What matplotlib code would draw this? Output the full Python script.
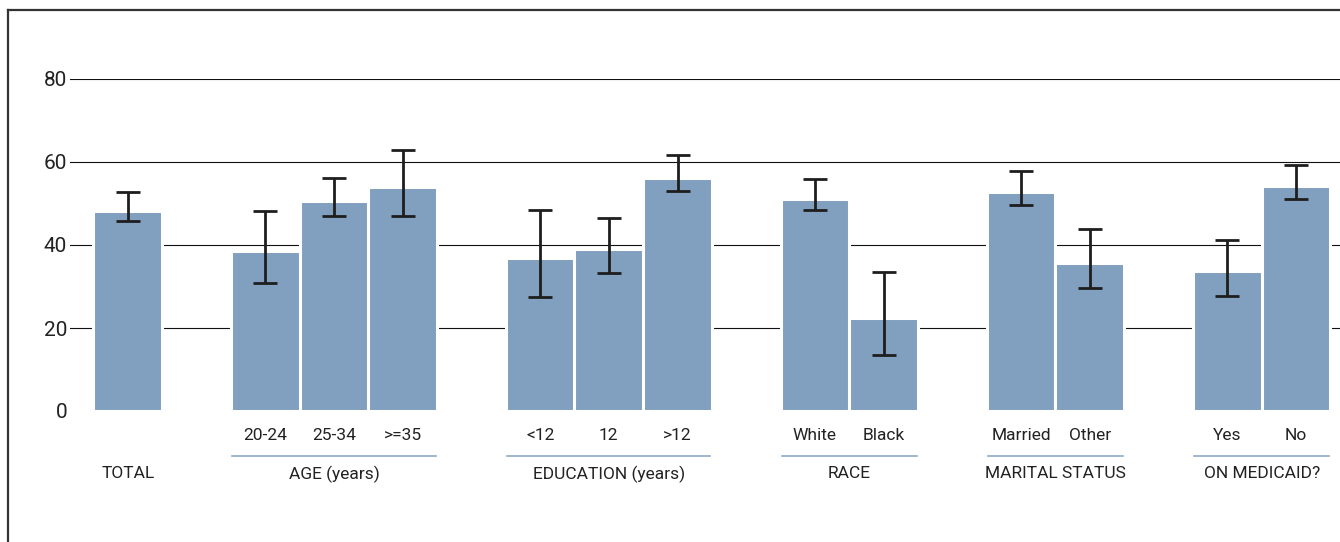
import matplotlib
matplotlib.use("Agg")
import matplotlib.pyplot as plt
from matplotlib import font_manager
from matplotlib.lines import Line2D
from matplotlib.transforms import blended_transform_factory

# data
CATEGORIES = ["", "20-24", "25-34", ">=35", "<12", "12", ">12",
              "White", "Black", "Married", "Other", "Yes", "No"]
POSITIONS = [0, 2, 3, 4, 6, 7, 8, 10, 11, 13, 14, 16, 17]
VALUES = [48.3, 38.6, 50.7, 54.0, 36.9, 39.1, 56.2, 51.1, 22.5, 52.8, 35.7, 33.8, 54.3]
CI_LOW = [45.8, 30.8, 47.0, 47.0, 27.5, 33.3, 53.0, 48.4, 13.5, 49.6, 29.6, 27.7, 51.1]
CI_HIGH = [52.8, 48.2, 56.1, 62.9, 48.4, 46.5, 61.7, 55.9, 33.5, 57.8, 43.9, 41.2, 59.3]
GROUPS = ["TOTAL", "AGE (years)", "EDUCATION (years)", "RACE", "MARITAL STATUS", "ON MEDICAID?"]
GROUP_SPANS = [(0, 0), (2, 4), (6, 8), (10, 11), (13, 14), (16, 17)]
Y_TICKS = [0, 20, 40, 60, 80]

BAR_COLOR = "#819fbf"
LINE_COLOR = "#8eabcb"
TEXT_COLOR = "#222222"

available = {f.name for f in font_manager.fontManager.ttflist}
family = "Roboto" if "Roboto" in available else "DejaVu Sans"
plt.rcParams["font.family"] = [family, "DejaVu Sans"]

fig = plt.figure(figsize=(13.4, 5.42), dpi=100)
W, H = 1340, 542
ax = fig.add_axes([70 / W, (H - 411) / H, 1 - 70 / W, (411 - 79) / H])

lower = [v - lo for v, lo in zip(VALUES, CI_LOW)]
upper = [hi - v for v, hi in zip(VALUES, CI_HIGH)]

for y in Y_TICKS[1:]:
    ax.axhline(y, color="#111111", linewidth=0.8, zorder=1)

ax.bar(POSITIONS, VALUES, width=1.0, color=BAR_COLOR, edgecolor="white",
       linewidth=2.2, zorder=2)
ax.errorbar(POSITIONS, VALUES, yerr=[lower, upper], fmt="none", ecolor="#1e1e1e",
            elinewidth=2.0, capsize=8.3, capthick=2.0, zorder=3)

ax.set_xlim(-0.84, 17.64)
ax.set_ylim(0, 80)
ax.set_yticks(Y_TICKS)
ax.set_yticklabels([str(t) for t in Y_TICKS], fontsize=15, color=TEXT_COLOR)
ax.tick_params(axis="y", length=0, pad=2)
ax.set_xticks([])
for side in ax.spines.values():
    side.set_visible(False)

trans = blended_transform_factory(ax.transData, ax.transAxes)
axh = 411 - 79
for pos, label in zip(POSITIONS, CATEGORIES):
    if label:
        ax.text(pos, -(436 - 411) / axh, label, transform=trans, ha="center",
                va="center", fontsize=12.5, color=TEXT_COLOR, clip_on=False)

for name, (start, end) in zip(GROUPS, GROUP_SPANS):
    mid = (start + end) / 2
    ax.text(mid, -(474 - 411) / axh, name, transform=trans, ha="center",
            va="center", fontsize=12.5, color=TEXT_COLOR, clip_on=False)
    if end > start:
        ax.add_line(Line2D([start - 0.48, end + 0.48], [-(456 - 411) / axh] * 2,
                           transform=trans, color=LINE_COLOR, linewidth=1.2,
                           clip_on=False))

# outer frame (left and top only, the rest is cropped)
fig.add_artist(Line2D([8 / W, 8 / W], [0, 1 - 10 / H], color="#333333", linewidth=1.6))
fig.add_artist(Line2D([8 / W, 1], [1 - 10 / H, 1 - 10 / H], color="#333333", linewidth=1.6))

fig.savefig("out.png", dpi=100)
